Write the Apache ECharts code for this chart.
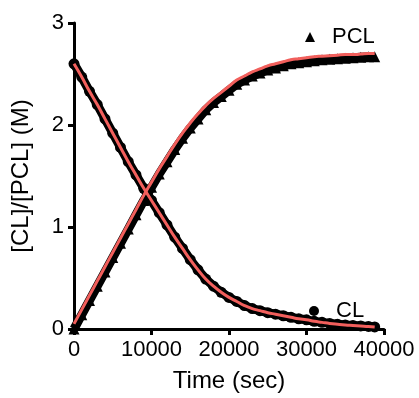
<!DOCTYPE html>
<html>
<head>
<meta charset="utf-8">
<script src="https://cdn.jsdelivr.net/npm/echarts@6/dist/echarts.min.js"></script>
<style>
html,body{margin:0;padding:0;background:#fff;}
#chart{width:419px;height:398px;}
</style>
</head>
<body>
<div id="chart"></div>
<script>
// Time points (sec)
const times = [0,1000,2000,3000,4000,5000,6000,7000,8000,9000,10000,11000,12000,13000,14000,15000,16000,17000,18000,19000,20000,21000,22000,23000,24000,25000,26000,27000,28000,29000,30000,31000,32000,33000,34000,35000,36000,37000,38000,38800];
// Observed [CL] (M)
const clObs = [2.60,2.47,2.33,2.20,2.06,1.92,1.78,1.64,1.51,1.38,1.26,1.14,1.02,0.90,0.79,0.68,0.58,0.49,0.42,0.36,0.31,0.27,0.23,0.20,0.18,0.16,0.145,0.13,0.115,0.10,0.09,0.075,0.065,0.055,0.047,0.04,0.035,0.03,0.025,0.02];
// Observed [PCL] (M)
const pclObs = [0.00,0.14,0.28,0.42,0.56,0.70,0.84,0.98,1.12,1.26,1.39,1.52,1.64,1.76,1.87,1.97,2.06,2.15,2.22,2.28,2.34,2.40,2.44,2.48,2.51,2.54,2.56,2.58,2.60,2.61,2.62,2.63,2.64,2.645,2.65,2.655,2.66,2.665,2.67,2.67];
// Fitted curves
const clFit = [2.60,2.47,2.33,2.20,2.06,1.92,1.78,1.64,1.51,1.38,1.26,1.14,1.02,0.90,0.79,0.68,0.58,0.49,0.42,0.36,0.31,0.27,0.23,0.20,0.18,0.16,0.145,0.13,0.115,0.10,0.09,0.075,0.065,0.055,0.047,0.04,0.035,0.03,0.025,0.02];
const pclFit = [0.05,0.19,0.33,0.47,0.61,0.75,0.89,1.03,1.17,1.31,1.44,1.57,1.69,1.81,1.92,2.02,2.11,2.19,2.26,2.32,2.38,2.44,2.48,2.52,2.55,2.58,2.60,2.62,2.64,2.65,2.66,2.67,2.675,2.68,2.685,2.69,2.69,2.695,2.70,2.70];
// Axis ticks
const xTicks = [0,10000,20000,30000,40000];
const yTicks = [0,1,2,3];

const pair = (xs, ys) => xs.map((x, i) => [x, ys[i]]);
const FONT = "'Liberation Sans', Arial, sans-serif";

const chart = echarts.init(document.getElementById('chart'), null, {renderer: 'canvas'});
chart.setOption({
  animation: false,
  backgroundColor: '#fff',
  grid: {left: 74, top: 23, right: 35, bottom: 64, containLabel: false},
  xAxis: {
    type: 'value',
    min: xTicks[0], max: xTicks[xTicks.length - 1], interval: xTicks[1] - xTicks[0],
    name: 'Time (sec)', nameLocation: 'middle', nameGap: 40,
    nameTextStyle: {fontFamily: FONT, fontSize: 24, color: '#000'},
    axisLine: {lineStyle: {color: '#000', width: 3}},
    axisTick: {show: true, length: 6, lineStyle: {color: '#000', width: 3}},
    axisLabel: {fontFamily: FONT, fontSize: 22, color: '#000', margin: 10, formatter: v => String(v)},
    splitLine: {show: false}
  },
  yAxis: {
    type: 'value',
    min: yTicks[0], max: yTicks[yTicks.length - 1], interval: yTicks[1] - yTicks[0],
    name: '[CL]/[PCL] (M)', nameLocation: 'middle', nameGap: 41,
    nameTextStyle: {fontFamily: FONT, fontSize: 24, color: '#000'},
    axisLine: {show: true, lineStyle: {color: '#000', width: 3}},
    axisTick: {show: true, length: 6, lineStyle: {color: '#000', width: 3}},
    axisLabel: {fontFamily: FONT, fontSize: 22, color: '#000', margin: 10, formatter: v => String(v)},
    splitLine: {show: false}
  },
  legend: [
    {data: [{name: 'PCL', icon: 'triangle'}], left: 300, top: 21, itemWidth: 10, itemHeight: 10,
     textStyle: {fontFamily: FONT, fontSize: 22, color: '#000', padding: [0, 0, 0, 12]}, selectedMode: false},
    {data: [{name: 'CL', icon: 'circle'}], left: 304, top: 295, itemWidth: 10, itemHeight: 10,
     textStyle: {fontFamily: FONT, fontSize: 22, color: '#000', padding: [0, 0, 0, 12]}, selectedMode: false}
  ],
  series: [
    {name: 'PCL', type: 'line', data: pair(times, pclObs), symbol: 'triangle', symbolSize: 11,
     showAllSymbol: true, itemStyle: {color: '#000'}, lineStyle: {color: '#000', width: 9}, z: 2},
    {name: 'CL', type: 'line', data: pair(times, clObs), symbol: 'circle', symbolSize: 11,
     showAllSymbol: true, itemStyle: {color: '#000'}, lineStyle: {color: '#000', width: 9}, z: 2},
    {name: 'PCL fit', type: 'line', data: pair(times, pclFit), symbol: 'none', smooth: true,
     lineStyle: {color: '#f25f5c', width: 3}, z: 3},
    {name: 'CL fit', type: 'line', data: pair(times, clFit), symbol: 'none', smooth: true,
     lineStyle: {color: '#f25f5c', width: 3}, z: 3}
  ]
});
</script>
</body>
</html>
